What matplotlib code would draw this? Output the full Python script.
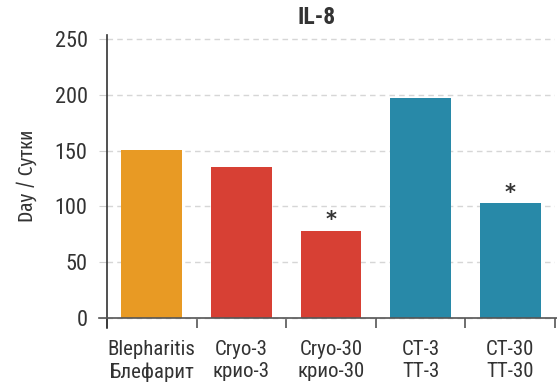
import matplotlib.pyplot as plt
import numpy as np

# Data
categories = ['Blepharitis\nБлефарит', 'Cryo-3\nкрио-3', 'Cryo-30\nкрио-30', 'CT-3\nТТ-3', 'CT-30\nТТ-30']
values = [151, 135, 78, 197, 103]
colors = ['#E89A24', '#D74034', '#D74034', '#2889A8', '#2889A8']
significant = [False, False, True, False, True]
yticks = [0, 50, 100, 150, 200, 250]

plt.rcParams['font.family'] = ['Roboto Condensed', 'DejaVu Sans']
text_col = '#333333'

fig = plt.figure(figsize=(5.57, 3.85), dpi=100)
ax = fig.add_axes([107/557, 1 - 328/385, 448/557, (328 - 35)/385])

x = np.arange(len(categories))
ax.bar(x, values, width=0.68, color=colors, zorder=3)

# significance stars
for xi, v, s in zip(x, values, significant):
    if s:
        ax.annotate('*', (xi, v), xytext=(0, 7.5), textcoords='offset points',
                    ha='center', va='center', fontsize=15, fontweight='bold',
                    color=text_col, family='DejaVu Sans')

ax.set_xlim(-0.5, len(categories) - 0.5)
ax.set_ylim(-9.3, 254)
ax.set_yticks(yticks)
ax.set_yticklabels([str(t) for t in yticks], fontsize=16, color=text_col)
ax.tick_params(axis='y', length=6, color='#d0d0d0', pad=8)
ax.grid(axis='y', linestyle=(0, (4, 3)), color='#d6d6d6', linewidth=1, zorder=0)

# category labels under bars, ticks at category boundaries
ax.set_xticks(np.arange(-0.5, len(categories)))
ax.set_xticklabels([])
ax.tick_params(axis='x', direction='in', length=7, color='#555555', width=1.2)
for xi, lab in zip(x, categories):
    ax.text(xi, -20, lab, ha='center', va='top', fontsize=15, color=text_col,
            linespacing=1.2)

# baseline at zero
ax.plot([-0.018, 1.005], [0, 0], transform=ax.get_yaxis_transform(),
        color='#555555', linewidth=1.2, clip_on=False, zorder=4)

for side in ['top', 'right', 'bottom']:
    ax.spines[side].set_visible(False)
ax.spines['left'].set_color('#333333')
ax.spines['left'].set_linewidth(1.2)

fig.text(27/557, 1 - 176/385, 'Day / Сутки', rotation=90, ha='center', va='center',
         fontsize=15, color=text_col, family=['Fira Sans Extra Condensed', 'DejaVu Sans'])
fig.text(317/557, 1 - 17/385, 'IL-8', ha='center', va='center',
         fontsize=17, fontweight='bold', color=text_col)

fig.savefig('out.png', dpi=100)
